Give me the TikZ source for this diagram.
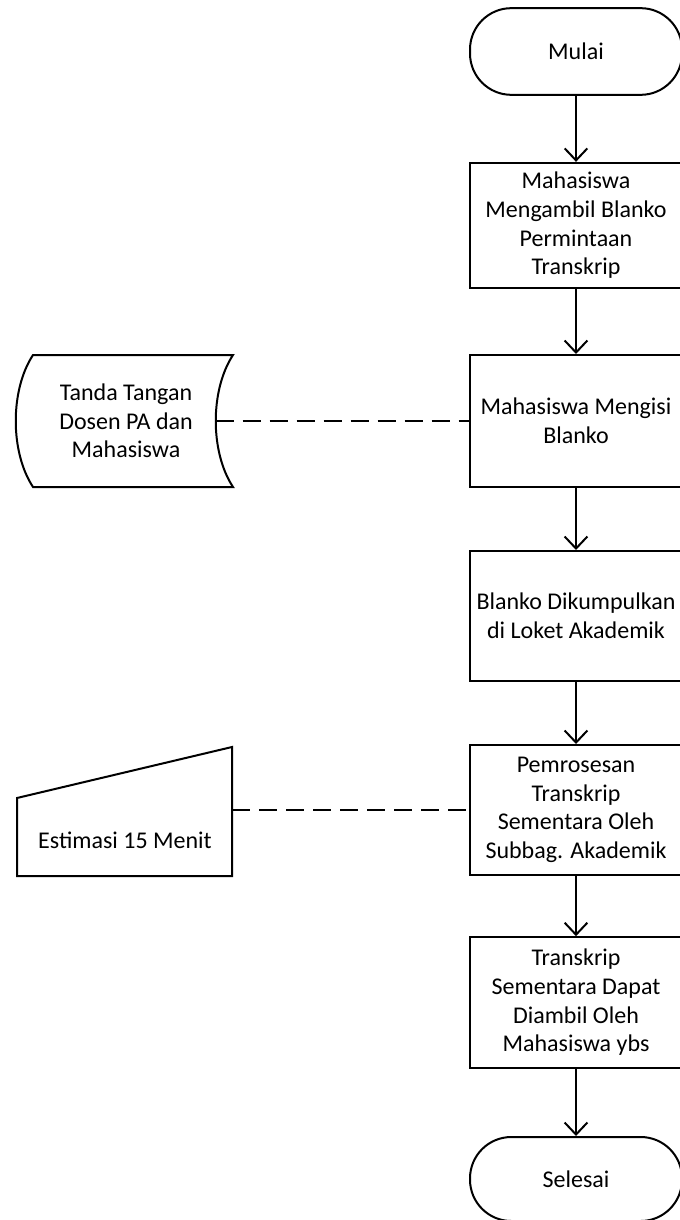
\documentclass[tikz,border=0pt]{standalone}
\usepackage{fontspec}
\setmainfont{Carlito}
\usetikzlibrary{arrows.meta}

\tikzset{
	flowline/.style={line width=1.5pt},
	proc/.style={draw, line width=1.5pt, minimum width=159pt, align=center,
		font=\fontsize{18pt}{21.5pt}\selectfont},
	term/.style={proc, rounded corners=31pt},
	lbl/.style={align=center, font=\fontsize{18pt}{21.5pt}\selectfont},
	arr/.style={flowline, -{Straight Barb[length=9pt, width=17pt]}},
	dashline/.style={flowline, dash pattern=on 13.5pt off 6.75pt}
}

\begin{document}
\begin{tikzpicture}[x=0.75pt, y=-0.75pt]
		%%%%% START %%%%%
		\useasboundingbox (0,0) rectangle (680,1220);
		
		% main column
		\node[term, minimum height=65pt] (mulai) at (576, 51.5) {Mulai};
		\node[proc, minimum height=94pt] (ambil) at (576, 225.5) {Mahasiswa\\Mengambil Blanko\\Permintaan\\Transkrip};
		\node[proc, minimum height=99pt] (isi) at (576, 421) {Mahasiswa Mengisi\\Blanko};
		\node[proc, minimum height=97.5pt] (kumpul) at (576, 616) {Blanko Dikumpulkan\\di Loket Akademik};
		\node[proc, minimum height=97.5pt] (proses) at (576, 810) {Pemrosesan\\Transkrip\\Sementara Oleh\\Subbag. Akademik};
		\node[proc, minimum height=98pt] (ambiltr) at (576, 1002.5) {Transkrip\\Sementara Dapat\\Diambil Oleh\\Mahasiswa ybs};
		\node[term, minimum height=63pt] (selesai) at (576, 1179) {Selesai};
		
		\draw[arr] (mulai) -- (ambil);
		\draw[arr] (ambil) -- (isi);
		\draw[arr] (isi) -- (kumpul);
		\draw[arr] (kumpul) -- (proses);
		\draw[arr] (proses) -- (ambiltr);
		\draw[arr] (ambiltr) -- (selesai);
		
		% stored data
		\draw[flowline] (33,355) .. controls (10,390) and (10,452) .. (33,487) -- (233,487)
			.. controls (210,452) and (210,390) .. (233,355) -- cycle;
		\node[lbl] (ttd) at (126,421) {Tanda Tangan\\Dosen PA dan\\Mahasiswa};
		\coordinate (ttdR) at (215.5,421);
		\draw[dashline] (ttdR) -- (isi.west);
		
		% manual input
		\draw[flowline] (17,798) -- (232,747) -- (232,876) -- (17,876) -- cycle;
		\node[lbl] (est) at (125,840) {Estimasi 15 Menit};
		\coordinate (estR) at (232,810);
		\draw[dashline] (estR) -- (proses.west);
		
		%%%%% END %%%%%
	\end{tikzpicture}
\end{document}
